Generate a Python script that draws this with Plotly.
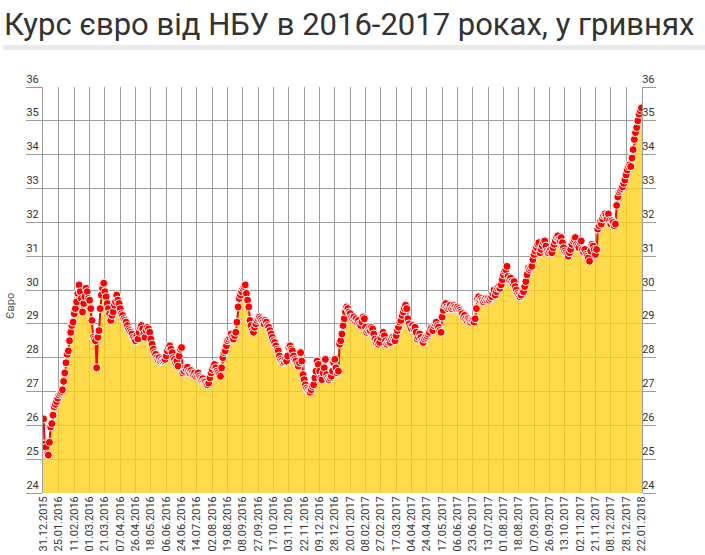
import plotly.graph_objects as go

tick_labels = [
    "31.12.2015", "25.01.2016", "11.02.2016", "01.03.2016", "21.03.2016", "07.04.2016",
    "26.04.2016", "18.05.2016", "06.06.2016", "24.06.2016", "14.07.2016", "02.08.2016",
    "19.08.2016", "08.09.2016", "27.09.2016", "17.10.2016", "03.11.2016", "22.11.2016",
    "09.12.2016", "28.12.2016", "20.01.2017", "08.02.2017", "27.02.2017", "17.03.2017",
    "04.04.2017", "24.04.2017", "17.05.2017", "06.06.2017", "23.06.2017", "13.07.2017",
    "01.08.2017", "18.08.2017", "07.09.2017", "26.09.2017", "13.10.2017", "02.11.2017",
    "21.11.2017", "08.12.2017", "28.12.2017", "22.01.2018",
]
tick_step = 13  # one tick label every 13 working days

# Official EUR/UAH rate, one value per working day
eur_rate = [
    26.19, 25.45, 25.35, 25.15, 25.12, 25.50, 25.95, 26.05, 26.30, 26.55, 26.62, 26.70, 26.80,
    26.90, 26.95, 27.00, 27.05, 27.30, 27.55, 27.85, 28.10, 28.20, 28.50, 28.75, 28.95, 29.05,
    29.30, 29.45, 29.65, 29.90, 30.15, 29.95, 29.75, 29.35, 29.60, 29.80, 30.05, 29.95, 29.75,
    29.70, 29.45, 29.10, 28.60, 28.55, 28.50, 27.70, 28.60, 28.80, 29.45, 29.85, 30.05, 30.20,
    29.95, 29.80, 29.60, 29.45, 29.30, 29.10, 29.25, 29.35, 29.55, 29.65, 29.85, 29.70, 29.60,
    29.45, 29.30, 29.25, 29.15, 29.10, 29.05, 28.95, 28.85, 28.80, 28.75, 28.70, 28.60, 28.55,
    28.50, 28.65, 28.55, 28.75, 28.90, 28.95, 28.85, 28.70, 28.60, 28.80, 28.90, 28.85, 28.75,
    28.55, 28.40, 28.25, 28.15, 28.10, 28.00, 27.95, 28.00, 27.90, 27.95, 27.90, 27.92, 27.95,
    28.05, 28.20, 28.30, 28.35, 28.25, 28.15, 28.00, 27.95, 27.85, 27.90, 27.75, 28.05, 28.25,
    28.30, 27.55, 27.60, 27.70, 27.65, 27.72, 27.60, 27.55, 27.62, 27.55, 27.50, 27.55, 27.45,
    27.50, 27.55, 27.45, 27.40, 27.35, 27.38, 27.30, 27.28, 27.22, 27.20, 27.25, 27.40, 27.55,
    27.65, 27.75, 27.80, 27.70, 27.60, 27.55, 27.50, 27.45, 27.70, 28.00, 28.15, 28.20, 28.35,
    28.50, 28.55, 28.60, 28.70, 28.60, 28.55, 28.65, 28.75, 29.05, 29.50, 29.75, 29.85, 29.95,
    30.05, 30.10, 30.15, 29.90, 29.70, 29.50, 29.10, 28.95, 28.80, 28.75, 28.90, 29.00, 29.10,
    29.15, 29.20, 29.15, 29.10, 29.05, 29.00, 29.10, 29.05, 28.95, 28.90, 28.80, 28.70, 28.60,
    28.50, 28.45, 28.35, 28.25, 28.20, 28.05, 27.95, 27.90, 27.85, 27.88, 27.95, 27.90, 28.05,
    28.30, 28.35, 28.25, 28.20, 28.05, 27.95, 27.90, 27.80, 27.75, 27.85, 28.15, 27.90, 27.50,
    27.35, 27.20, 27.10, 27.05, 27.00, 26.98, 27.05, 27.15, 27.20, 27.40, 27.60, 27.90, 27.80,
    27.60, 27.40, 27.35, 27.55, 27.70, 27.95, 27.50, 27.40, 27.35, 27.40, 27.45, 27.60, 27.85,
    27.95, 27.70, 27.55, 27.60, 28.40, 28.50, 28.70, 28.95, 29.15, 29.35, 29.50, 29.45, 29.35,
    29.30, 29.20, 29.15, 29.20, 29.10, 29.15, 29.05, 29.10, 29.00, 28.95, 29.05, 29.20, 29.15,
    28.90, 28.75, 28.80, 28.85, 28.80, 28.90, 28.85, 28.70, 28.55, 28.45, 28.50, 28.40, 28.45,
    28.60, 28.70, 28.75, 28.65, 28.50, 28.40, 28.45, 28.50, 28.45, 28.55, 28.60, 28.55, 28.50,
    28.65, 28.80, 28.90, 29.05, 29.10, 29.25, 29.35, 29.45, 29.55, 29.45, 29.15, 29.00, 28.90,
    28.85, 28.95, 28.85, 28.90, 28.75, 28.55, 28.60, 28.70, 28.60, 28.50, 28.45, 28.55, 28.60,
    28.65, 28.70, 28.75, 28.85, 28.90, 28.80, 28.95, 29.00, 29.05, 28.95, 28.90, 28.80, 28.75,
    29.20, 29.40, 29.55, 29.60, 29.50, 29.45, 29.50, 29.55, 29.45, 29.50, 29.55, 29.50, 29.45,
    29.50, 29.45, 29.40, 29.35, 29.30, 29.20, 29.25, 29.15, 29.10, 29.15, 29.10, 29.05, 29.10,
    29.10, 29.05, 29.15, 29.45, 29.75, 29.80, 29.70, 29.75, 29.70, 29.65, 29.70, 29.75, 29.70,
    29.75, 29.70, 29.75, 29.80, 29.90, 30.00, 29.85, 29.95, 30.05, 30.10, 30.05, 30.15, 30.30,
    30.45, 30.55, 30.60, 30.70, 30.40, 30.30, 30.35, 30.25, 30.20, 30.25, 30.10, 30.00, 29.90,
    29.85, 29.80, 29.85, 29.95, 29.95, 30.10, 30.25, 30.45, 30.65, 30.60, 30.65, 30.70, 30.90,
    31.05, 31.15, 31.25, 31.35, 31.40, 31.10, 31.20, 31.30, 31.40, 31.45, 31.30, 31.15, 31.10,
    31.15, 31.20, 31.10, 31.25, 31.35, 31.45, 31.55, 31.60, 31.50, 31.45, 31.55, 31.40, 31.25,
    31.15, 31.10, 31.05, 31.00, 31.10, 31.20, 31.35, 31.45, 31.50, 31.55, 31.35, 31.30, 31.25,
    31.40, 31.45, 31.20, 31.10, 31.20, 31.05, 31.00, 30.95, 30.85, 31.15, 31.35, 31.30, 31.20,
    31.05, 31.20, 31.80, 31.90, 32.00, 31.95, 32.10, 32.20, 32.25, 32.20, 32.10, 32.25, 32.05,
    31.95, 32.05, 32.00, 31.90, 31.95, 32.50, 32.75, 32.90, 32.95, 33.00, 33.05, 33.15, 33.25,
    33.40, 33.55, 33.65, 33.70, 33.65, 33.90, 34.15, 34.45, 34.65, 34.80, 35.00, 35.20, 35.30,
    35.38,
]

x_idx = list(range(len(eur_rate)))
tick_vals = [i * tick_step for i in range(len(tick_labels))]

GRID = "#9c9c9c"
FONT = "Roboto"

fig = go.Figure()
fig.add_trace(go.Bar(
    x=x_idx, y=eur_rate,
    marker=dict(color="#FFD21F", line=dict(width=0)),
    opacity=0.8, hoverinfo="skip",
))
fig.add_trace(go.Scatter(
    x=x_idx, y=eur_rate, mode="lines+markers",
    line=dict(color="#FF0000", width=2),
    marker=dict(color="#FF0000", size=8, line=dict(color="white", width=1)),
))
# helper trace so the right-hand axis is drawn
fig.add_trace(go.Scatter(x=[0], y=[None], yaxis="y2", mode="markers",
                         showlegend=False, hoverinfo="skip"))

axis_font = dict(family=FONT, size=11, color="#333333")

fig.update_layout(
    width=705, height=555,
    margin=dict(l=43, r=63, t=87, b=62, autoexpand=False),
    paper_bgcolor="white", plot_bgcolor="white",
    showlegend=False, bargap=0.15,
    font=dict(family=FONT, color="#333333"),
    title=dict(
        text="Курс євро від НБУ в 2016-2017 роках, у гривнях",
        font=dict(family=FONT, size=31, color="#333333"),
        x=0, xanchor="left", xref="container",
        y=1 - 24 / 555, yanchor="middle", yref="container",
        pad=dict(l=4, t=0, b=0, r=0),
    ),
    xaxis=dict(
        range=[-0.5, len(eur_rate) - 0.5],
        tickmode="array", tickvals=tick_vals, ticktext=tick_labels,
        tickangle=-90, tickfont=axis_font, automargin=False,
        showgrid=True, gridcolor=GRID, gridwidth=1,
        zeroline=False, showline=False, ticks="",
    ),
    yaxis=dict(
        range=[24, 36], dtick=1, tick0=24, automargin=False,
        showgrid=True, gridcolor=GRID, gridwidth=1,
        ticks="outside", ticklen=16, tickcolor=GRID, tickwidth=1,
        ticklabelposition="outside top", ticklabelstandoff=1,
        tickfont=axis_font,
        showline=True, linecolor=GRID, linewidth=1,
        zeroline=False,
    ),
    yaxis2=dict(
        range=[24, 36], dtick=1, tick0=24, automargin=False,
        overlaying="y", side="right",
        showgrid=False,
        ticks="outside", ticklen=13, tickcolor=GRID, tickwidth=1,
        ticklabelposition="outside top", ticklabelstandoff=-3,
        tickfont=axis_font,
        showline=True, linecolor=GRID, linewidth=1,
        zeroline=False,
    ),
    annotations=[dict(
        text="Євро", textangle=-90, showarrow=False,
        xref="paper", yref="paper", x=(10 - 43) / 599, y=(493 - 306) / 406,
        xanchor="center", yanchor="middle",
        font=dict(family=FONT, size=11, color="#555555"),
    )],
    shapes=[dict(
        type="rect", xref="paper", yref="paper", layer="below",
        x0=(3 - 43) / 599, x1=(705 - 43) / 599,
        y0=(493 - 50) / 406, y1=(493 - 45) / 406,
        fillcolor="#e9e9e9", line=dict(width=0),
    )],
)

fig.write_html(
    "out.html",
    config={"displayModeBar": False},
    post_script="document.body.style.margin='0';document.body.style.overflow='hidden';",
)
